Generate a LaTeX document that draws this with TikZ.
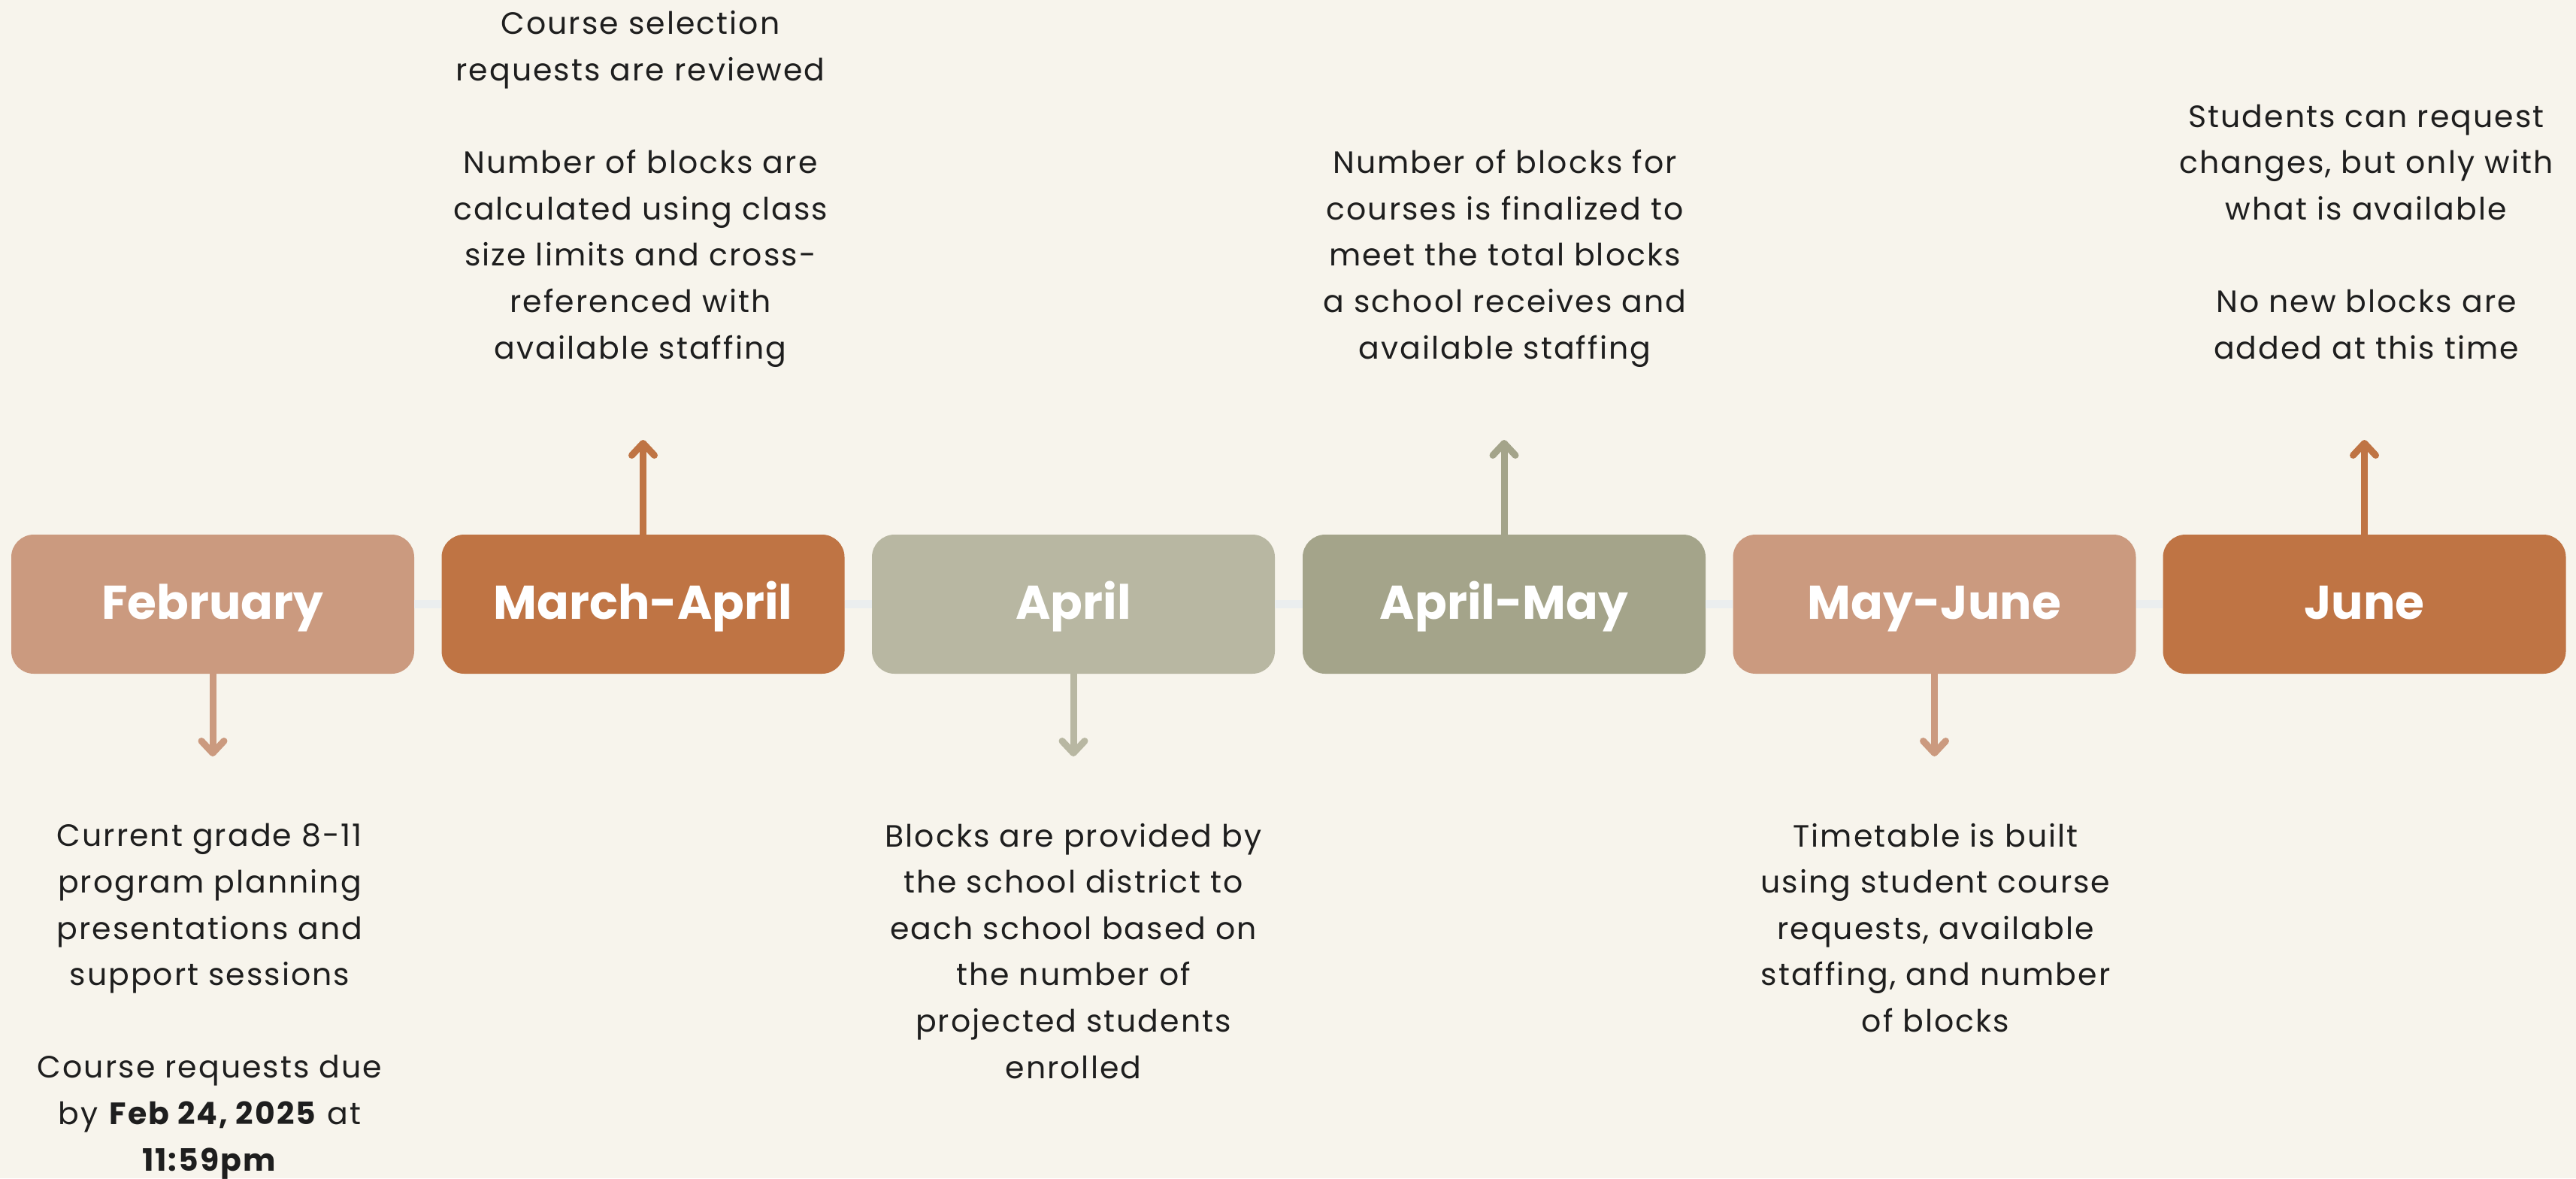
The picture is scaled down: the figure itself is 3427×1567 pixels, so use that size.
\documentclass[tikz,border=0pt]{standalone}
\usepackage{fontspec}
\setmainfont{Poppins}
\newfontfamily\bodyfont[LetterSpace=5]{Poppins}
\usetikzlibrary{arrows.meta}
\definecolor{bg}{HTML}{F7F4EC}
\definecolor{tl}{HTML}{EBEEEF}
\definecolor{cA}{HTML}{CB9A7F}
\definecolor{cB}{HTML}{BF7444}
\definecolor{cC}{HTML}{B8B7A2}
\definecolor{cD}{HTML}{A4A48A}
\definecolor{ink}{HTML}{1E1E1E}
\tikzset{
  monthbox/.style={rectangle, rounded corners=30pt, minimum width=536pt, minimum height=185pt,
    inner sep=0pt, text=white, text height=50pt, text depth=11pt,
    font=\fontsize{63}{70}\selectfont\bfseries},
  info/.style={align=center, inner sep=0pt, text=ink, anchor=base,
    font=\bodyfont\fontsize{41}{61.6}\selectfont},
  tlline/.style={line width=11pt, tl},
  tick/.style={line width=9pt, -{Straight Barb[length=16pt,width=30pt,round]}},
}
\begin{document}
\begin{tikzpicture}[x=1pt,y=-1pt]
\fill[bg] (0,0) rectangle (3427,1567);
\node[monthbox, fill=cA] (feb) at (283,803.5) {February};
\node[monthbox, fill=cB] (ma) at (855.5,803.5) {March-April};
\node[monthbox, fill=cC] (apr) at (1428,803.5) {April};
\node[monthbox, fill=cD] (am) at (2001,803.5) {April-May};
\node[monthbox, fill=cA] (mj) at (2573.5,803.5) {May-June};
\node[monthbox, fill=cB] (jun) at (3145.5,803.5) {June};
\draw[tlline] (feb.east) -- (ma.west);
\draw[tlline] (ma.east) -- (apr.west);
\draw[tlline] (apr.east) -- (am.west);
\draw[tlline] (am.east) -- (mj.west);
\draw[tlline] (mj.east) -- (jun.west);
\coordinate (febend) at (283,1006);
\coordinate (maend) at (855.5,585);
\coordinate (aprend) at (1428,1006);
\coordinate (amend) at (2001,585);
\coordinate (mjend) at (2573.5,1006);
\coordinate (junend) at (3145.5,585);
\draw[tick, cA] (feb.south) -- (febend);
\draw[tick, cB] (ma.north) -- (maend);
\draw[tick, cC] (apr.south) -- (aprend);
\draw[tick, cD] (am.north) -- (amend);
\draw[tick, cA] (mj.south) -- (mjend);
\draw[tick, cB] (jun.north) -- (junend);
\node[info] (t1) at (279,1557) {Current grade 8-11\\program planning\\presentations and\\support sessions\\[61.6pt]Course requests due\\by \textbf{Feb 24, 2025} at\\\textbf{11:59pm}};
\node[info] (t2) at (852,477) {Course selection\\requests are reviewed\\[61.6pt]Number of blocks are\\calculated using class\\size limits and cross-\\referenced with\\available staffing};
\node[info] (t3) at (1428,1434) {Blocks are provided by\\the school district to\\each school based on\\the number of\\projected students\\enrolled};
\node[info] (t4) at (2002,477) {Number of blocks for\\courses is finalized to\\meet the total blocks\\a school receives and\\available staffing};
\node[info] (t5) at (2575,1372.5) {Timetable is built\\using student course\\requests, available\\staffing, and number\\of blocks};
\node[info] (t6) at (3148,477) {Students can request\\changes, but only with\\what is available\\[61.6pt]No new blocks are\\added at this time};
\end{tikzpicture}
\end{document}
